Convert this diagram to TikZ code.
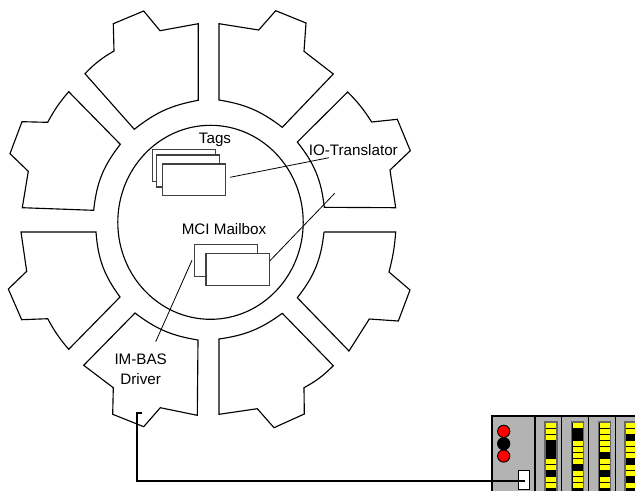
\documentclass[tikz,border=0pt]{standalone}
\usepackage{fontspec}
\setmainfont{Liberation Sans}
\usepackage{tikz}
\definecolor{rackgray}{HTML}{B3B3B3}
\definecolor{ledyellow}{HTML}{FFFF00}
\newcommand{\ledstrip}[2]{%
  \draw[black!60, fill=black, line width=0.9pt] (#1-6,422) rectangle (#1+6,495);
  \foreach \yy in {#2} {
    \fill[ledyellow] (#1-5,\yy-2.5) rectangle (#1+5,\yy+2.5);
  }
}

\begin{document}
\begin{tikzpicture}[
  x=0.75pt, y=-0.75pt,
  sector/.style={draw, line width=0.85pt, fill=white, line join=miter},
  card/.style={rectangle, draw=black!75, line width=0.8pt, fill=white, inner sep=0pt},
  lamp/.style={circle, draw, minimum size=9.2pt, inner sep=0pt, line width=0.7pt},
  label/.style={font=\fontsize{11.4pt}{13pt}\selectfont, inner sep=0pt, align=center},
  leader/.style={line width=0.6pt},
  cable/.style={line width=1.3pt}
]
  \useasboundingbox (0,0) rectangle (635,490);
  \clip (0,0) rectangle (635,490);

  % ring of sectors
  \draw[sector] (85,73.7) to[bend left=8] (114,51) -- (113.3,23.7) -- (143.7,11) -- (160,30.7) -- (198.3,23.7) -- (198.3,100.3) to[bend right=14] (134.3,129.3) -- cycle;
  \draw[sector] (68.7,91.7) to[bend right=6] (47.7,122.3) -- (22,121.7) -- (10,153.7) -- (28.3,171.3) -- (22.3,207.7) -- (93.7,210.3) to[bend left=16] (120.3,144.3) -- cycle;
  \draw[sector] (21,232) -- (96,232) to[bend right=16] (120,297) -- (68.7,349.3) to[bend left=6] (47.7,318.7) -- (21.7,319.7) -- (8.3,289) -- (26.7,271.3) -- cycle;
  \draw[sector] (135,313) to[bend right=14] (198,340) -- (197.3,415.3) -- (160.3,407.7) -- (143.7,426.7) -- (112.7,414.3) -- (113.3,387.7) -- (83.7,365.3) -- cycle;
  \draw[sector] (219,23.7) -- (258.7,30) -- (275.7,10.7) -- (306,23) -- (304,51.3) -- (333.3,74) -- (282.3,127.3) to[bend right=14] (219,100) -- cycle;
  \draw[sector] (347.7,92) to[bend left=6] (371.7,122) -- (397.3,119.3) -- (410.3,150.7) -- (390,170) -- (395.7,207.7) -- (324.3,207.3) to[bend right=16] (297.3,142) -- cycle;
  \draw[sector] (324,232) -- (395.7,232) to[bend left=5] (389,272) -- (410,290) -- (398.3,321) -- (369.3,319) -- (349,351) -- (297.3,297.7) to[bend right=16] (324,232);
  \draw[sector] (282.3,313.3) -- (333.3,365.7) to[bend left=8] (304,387.7) -- (304.3,414) -- (274,427.7) -- (257.3,408.7) -- (219,414.3) -- (219,339) to[bend right=14] (282.3,313.3);

  % hub
  \draw[line width=0.85pt] (210.5,222.3) ellipse [x radius=92.7, y radius=97];

  \node[card, minimum width=47.5pt, minimum height=23.8pt] (tag1) at (183.8,165.8) {};
  \node[card, minimum width=47.3pt, minimum height=24pt] (tag2) at (188.2,171) {};
  \node[card, minimum width=47.5pt, minimum height=23.3pt] (tag3) at (194,179.5) {};
  \node[card, minimum width=47.5pt, minimum height=23.7pt] (mail1) at (225.7,260.5) {};
  \node[card, minimum width=47.3pt, minimum height=23.7pt] (mail2) at (237.5,269.5) {};

  \node[label] (tags) at (215,139.7) {Tags};
  \node[label] (mailbox) at (224,229.3) {MCI Mailbox};
  \node[label] (translator) at (353.3,150) {IO-Translator};
  \node[label] (driver) at (140.7,369) {IM-BAS\\[2.2pt]Driver};

  % leader lines
  \coordinate (tagend) at (230,177.3);
  \coordinate (tagfar) at (329,157.7);
  \coordinate (mailend) at (270,260.7);
  \coordinate (mailfar) at (334.7,193.3);
  \coordinate (backend) at (192,260.3);
  \coordinate (backfar) at (155.7,341.7);
  \draw[leader] (tagend) -- (tagfar);
  \draw[leader] (mailend) -- (mailfar);
  \draw[leader] (backend) -- (backfar);

  % rack
  \draw[fill=rackgray, line width=0.8pt] (492,416) rectangle (640,495);
  \foreach \xx in {535,561.7,588.3,615.3} {
    \draw[line width=0.8pt] (\xx,416) -- (\xx,495);
  }
  \node[lamp, fill=red] (ledb) at (503.7,456) {};
  \node[lamp, fill=red] (leda) at (503.7,431.3) {};
  \node[lamp, fill=black] (ledc) at (503.7,443.7) {};
  \ledstrip{551}{425,431,437,461.3,467.3,479.3,485.5}
  \ledstrip{577.7}{425,443.3,449.3,455.3,461.3,473.3,479.3,485.5}
  \ledstrip{604.7}{425,431,437,443.3,449.3,461.3,467.3,479.3,485.5}
  \ledstrip{631}{425,431,443.3,449.3,455.3,467.3,473.3,485.5}

  \node[rectangle, draw, fill=white, line width=0.8pt, minimum width=8.5pt, minimum height=14pt, inner sep=0pt] (port) at (524,479.7) {};

  % cable
  \coordinate (cabletop) at (142.3,412.7);
  \coordinate (cablecorner) at (136.7,481);
  \coordinate (cableend) at (524.7,481);
  \draw[cable] (cabletop) -| (cablecorner) -- (cableend);
\end{tikzpicture}
\end{document}
